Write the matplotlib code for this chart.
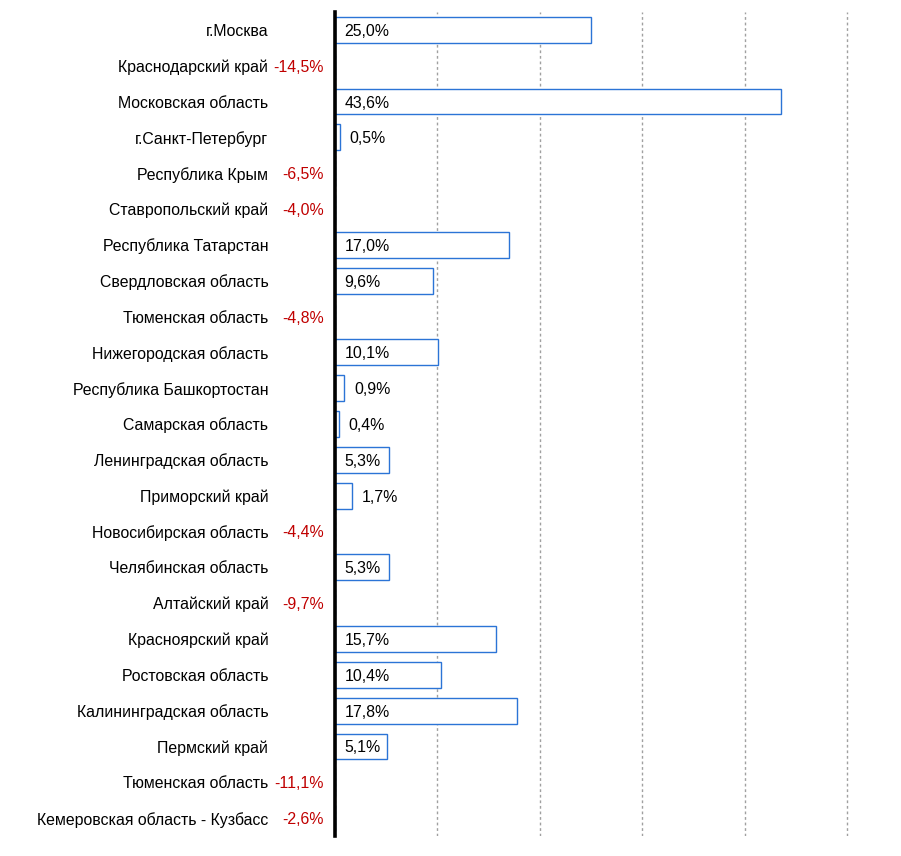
import matplotlib.pyplot as plt

# region growth data, %
regions = ["г.Москва", "Краснодарский край", "Московская область", "г.Санкт-Петербург",
           "Республика Крым", "Ставропольский край", "Республика Татарстан",
           "Свердловская область", "Тюменская область", "Нижегородская область",
           "Республика Башкортостан", "Самарская область", "Ленинградская область",
           "Приморский край", "Новосибирская область", "Челябинская область",
           "Алтайский край", "Красноярский край", "Ростовская область",
           "Калининградская область", "Пермский край", "Тюменская область",
           "Кемеровская область - Кузбасс"]
growth = [25.0, -14.5, 43.6, 0.5, -6.5, -4.0, 17.0, 9.6, -4.8, 10.1, 0.9, 0.4, 5.3,
          1.7, -4.4, 5.3, -9.7, 15.7, 10.4, 17.8, 5.1, -11.1, -2.6]

plt.rcParams["font.family"] = ["Liberation Sans", "DejaVu Sans"]
fs = 11.4

fig = plt.figure(figsize=(9.01, 8.56), dpi=100)
ax = fig.add_axes([335 / 901, 20 / 856, 515 / 901, (844 - 20) / 856])

pos = list(range(len(regions)))
ax.barh(pos, growth, height=0.72, color="white", edgecolor="#2B74D6", linewidth=1, zorder=2)

for i, v in enumerate(growth):
    txt = f"{v:.1f}%".replace(".", ",")
    if v < 0:
        ax.annotate(txt, (0, i), xytext=(-8, 0), textcoords="offset points",
                    ha="right", va="center_baseline", fontsize=fs, color="#C00000",
                    annotation_clip=False)
    elif v < 3:
        ax.annotate(txt, (v, i), xytext=(7, 0), textcoords="offset points",
                    ha="left", va="center_baseline", fontsize=fs, color="black")
    else:
        ax.annotate(txt, (0, i), xytext=(7, 0), textcoords="offset points",
                    ha="left", va="center_baseline", fontsize=fs, color="black")

ax.set_ylim(len(regions) - 0.5, -0.5)
ax.set_xlim(0, 50.3)
ax.set_yticks(pos)
ax.set_yticklabels(regions, fontsize=fs)
ax.tick_params(axis="y", length=0, pad=48)
ax.set_xticks([0, 10, 20, 30, 40, 50])
ax.tick_params(axis="x", length=0, labelbottom=False)
ax.grid(axis="x", color="#A0A0A0", linestyle=(0, (2, 2)), linewidth=1, zorder=0)
ax.set_axisbelow(True)
for s in ["top", "right", "bottom"]:
    ax.spines[s].set_visible(False)
ax.spines["left"].set_linewidth(2.6)
ax.spines["left"].set_zorder(5)

fig.savefig("out.png", dpi=100)
